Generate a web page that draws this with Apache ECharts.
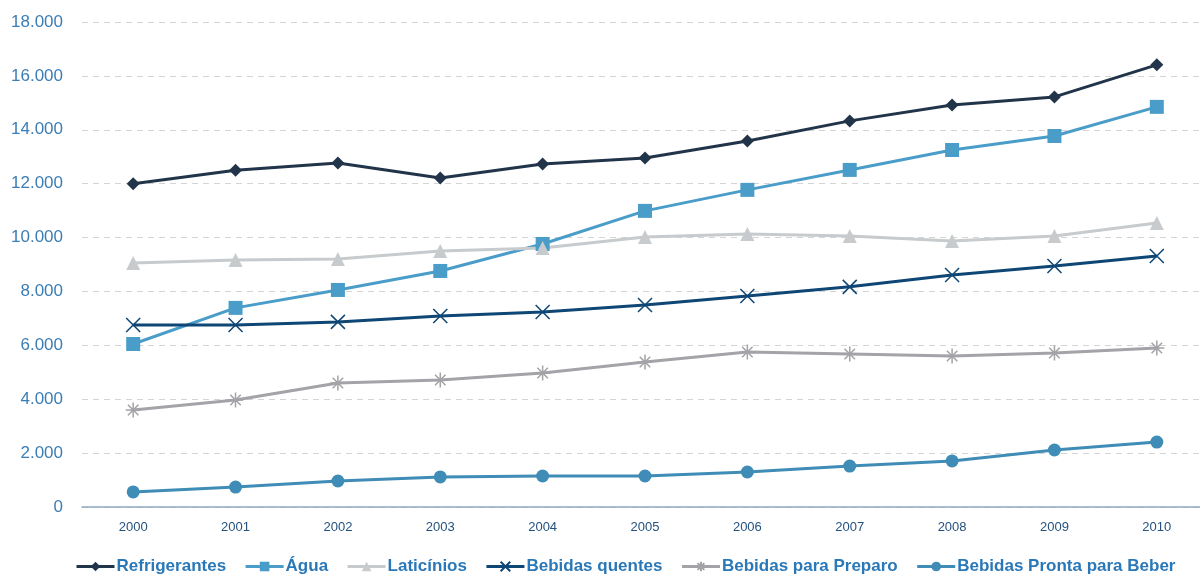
<!DOCTYPE html>
<html><head><meta charset="utf-8">
<script src="https://cdn.jsdelivr.net/npm/echarts@6/dist/echarts.min.js"></script>
<style>html,body{margin:0;padding:0;background:#fff;overflow:hidden;width:1200px;height:575px}#c{width:1210px;height:575px}</style>
</head><body><div id="c"></div>
<script>
const years = ['2000','2001','2002','2003','2004','2005','2006','2007','2008','2009','2010'];
const refrigerantes = [12000,12500,12770,12210,12730,12955,13585,14330,14920,15220,16410];
const agua = [6050,7390,8055,8760,9760,10990,11770,12510,13250,13770,14850];
const laticinios = [9060,9170,9205,9500,9615,10020,10130,10060,9875,10060,10540];
const quentes = [6755,6755,6870,7090,7240,7500,7830,8170,8610,8945,9315];
const preparo = [3600,3970,4600,4715,4975,5380,5755,5680,5605,5715,5900];
const pronta = [560,740,965,1115,1150,1150,1300,1520,1710,2115,2410];
const yTicks = [0,2000,4000,6000,8000,10000,12000,14000,16000,18000];

const crossPath = 'path://M0,0L10,10M10,0L0,10';
const starPath = 'path://M5,0L5,10M0,5L10,5M1.5,1.5L8.5,8.5M8.5,1.5L1.5,8.5';

function mk(name, data, color, symbol, size, extra) {
  return Object.assign({
    name, type: 'line', data, symbol, symbolSize: size, showSymbol: true,
    lineStyle: {color, width: 3},
    itemStyle: {color, borderColor: color, borderWidth: 0},
    emphasis: {disabled: true}, z: 3
  }, extra || {});
}

const chart = echarts.init(document.getElementById('c'));
chart.setOption({
  animation: false,
  backgroundColor: '#fff',
  grid: {left: 82, right: 2, top: 22, bottom: 68},
  xAxis: {
    type: 'category', data: years, boundaryGap: true,
    axisLine: {show: true, lineStyle: {color: '#8fa9c2', width: 1.5}},
    axisTick: {show: false},
    axisLabel: {color: '#24527f', fontSize: 13, fontFamily: 'Liberation Sans, Arial, sans-serif', margin: 14}
  },
  yAxis: {
    type: 'value', min: 0, max: 18000, interval: 2000,
    axisLine: {show: false}, axisTick: {show: false},
    splitLine: {lineStyle: {color: '#d4d4d4', type: [6, 5], width: 1}},
    axisLabel: {
      color: '#3b7db5', fontSize: 17, fontFamily: 'Liberation Sans, Arial, sans-serif', margin: 19,
      formatter: v => v === 0 ? '0' : (v / 1000).toFixed(3)
    }
  },
  legend: {
    top: 553, left: 70, itemWidth: 38, itemHeight: 12, itemGap: 18,
    lineStyle: {width: 3},
    textStyle: {color: '#2a78b8', fontSize: 17, fontWeight: 'bold', fontFamily: 'Liberation Sans, Arial, sans-serif', padding: [0, 0, 0, -3]},
    data: ['Refrigerantes','Água','Laticínios','Bebidas quentes','Bebidas para Preparo','Bebidas Pronta para Beber']
  },
  series: [
    mk('Refrigerantes', refrigerantes, '#22344a', 'diamond', 13),
    mk('Água', agua, '#4a9dc9', 'rect', 14),
    mk('Laticínios', laticinios, '#c7cbcd', 'triangle', 14),
    mk('Bebidas quentes', quentes, '#0e4675', crossPath, 14, {itemStyle: {color: 'none', borderColor: '#0e4675', borderWidth: 1.5}}),
    mk('Bebidas para Preparo', preparo, '#a3a3a8', starPath, 15, {itemStyle: {color: 'none', borderColor: '#a3a3a8', borderWidth: 1.5}}),
    mk('Bebidas Pronta para Beber', pronta, '#3f8cb6', 'circle', 13)
  ]
});
</script></body></html>
